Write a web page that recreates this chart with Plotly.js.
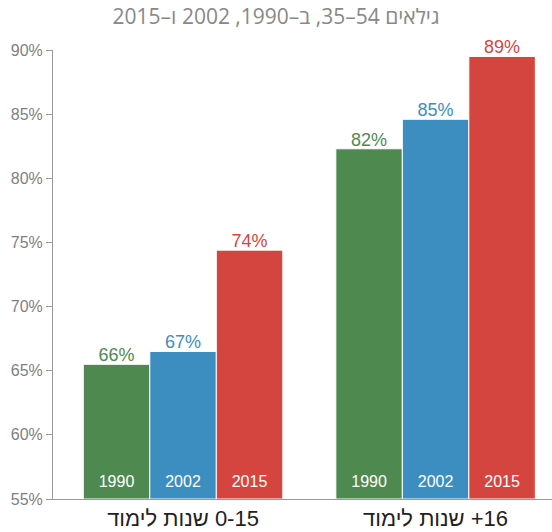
<!DOCTYPE html>
<html>
<head>
<meta charset="utf-8">
<script src="https://cdn.plot.ly/plotly-3.0.1.min.js"></script>
<style>
html, body { margin: 0; padding: 0; background: #fff; }
#chart { width: 552px; height: 532px; }
</style>
</head>
<body>
<div id="chart"></div>
<script>
// ---- data ----
var categories = ["\u202B0-15 שנות לימוד\u202C", "\u202B16+ שנות לימוד\u202C"];
var years = ["1990", "2002", "2015"];
var values1990 = [65.5, 82.3];
var values2002 = [66.5, 84.6];
var values2015 = [74.4, 89.5];
var valueLabels1990 = ["66%", "82%"];
var valueLabels2002 = ["67%", "85%"];
var valueLabels2015 = ["74%", "89%"];
var colors = ["#4e8a50", "#3d8ec0", "#d5453f"];
var titleText = "\u202Bגילאים 54–35, ב–1990, 2002 ו–2015\u202C";
var yTicks = [55, 60, 65, 70, 75, 80, 85, 90];
var yMin = 55, yMax = 90;

var series = [values1990, values2002, values2015];
var labels = [valueLabels1990, valueLabels2002, valueLabels2015];

var traces = [];
years.forEach(function (yr, i) {
  var heights = series[i].map(function (v) { return v - yMin; });
  traces.push({
    type: "bar",
    x: categories,
    y: heights,
    base: yMin,
    name: yr,
    offsetgroup: yr,
    marker: { color: colors[i], line: { color: "#ffffff", width: 1 } },
    text: categories.map(function () { return yr; }),
    textposition: "inside",
    insidetextanchor: "start",
    textangle: 0,
    constraintext: "none",
    textfont: { family: "Liberation Sans, Arial, sans-serif", size: 16, color: "#ffffff" },
    hoverinfo: "skip",
    showlegend: false
  });
  traces.push({
    type: "bar",
    x: categories,
    y: heights,
    base: yMin,
    name: yr + " label",
    offsetgroup: yr,
    marker: { color: "rgba(0,0,0,0)" },
    text: labels[i],
    textposition: "outside",
    textangle: 0,
    constraintext: "none",
    cliponaxis: false,
    textfont: { family: "Liberation Sans, Arial, sans-serif", size: 18, color: colors[i] },
    hoverinfo: "skip",
    showlegend: false
  });
});

var layout = {
  width: 552,
  height: 532,
  margin: { l: 53, r: 0, t: 50, b: 33 },
  paper_bgcolor: "#ffffff",
  plot_bgcolor: "#ffffff",
  barmode: "group",
  bargap: 0.21,
  bargroupgap: 0,
  showlegend: false,
  title: {
    text: titleText,
    x: 0.5,
    xanchor: "center",
    y: 0.969,
    yanchor: "middle",
    font: { family: "Open Sans, Noto Sans, sans-serif", size: 21, color: "#888888" }
  },
  xaxis: {
    type: "category",
    range: [-0.515, 1.461],
    showline: true,
    linecolor: "#999999",
    linewidth: 1,
    ticks: "",
    showgrid: false,
    zeroline: false,
    tickfont: { family: "Liberation Sans, Arial, sans-serif", size: 22, color: "#222222" },
    fixedrange: true
  },
  yaxis: {
    range: [yMin, yMax],
    tickvals: yTicks,
    ticktext: yTicks.map(function (v) { return v + "%"; }),
    showline: true,
    linecolor: "#999999",
    linewidth: 1,
    ticks: "outside",
    ticklen: 6,
    tickcolor: "#999999",
    showgrid: false,
    zeroline: false,
    tickfont: { family: "Liberation Sans, Arial, sans-serif", size: 16, color: "#808080" },
    fixedrange: true
  }
};

Plotly.newPlot("chart", traces, layout, { displayModeBar: false, staticPlot: true }).then(function (gd) {
  // fine-tune label offsets: year labels sit a bit higher, value labels a bit closer to bar tops
  var groups = gd.querySelectorAll("g.trace.bars");
  groups.forEach(function (g, idx) {
    var dy = (idx % 2 === 0) ? -6 : 4;
    g.querySelectorAll("text.bartext").forEach(function (t) {
      var tr = t.getAttribute("transform") || "";
      t.setAttribute("transform", "translate(0," + dy + ") " + tr);
    });
  });
});
</script>
</body>
</html>
